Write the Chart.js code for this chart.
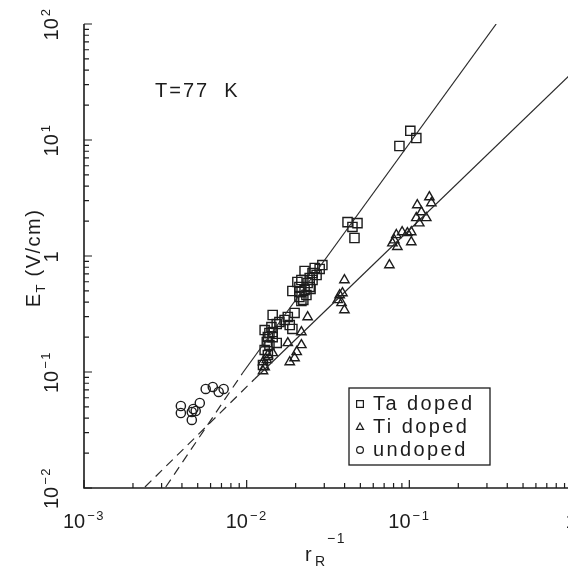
<!DOCTYPE html>
<html>
<head>
<meta charset="utf-8">
<script src="https://cdn.jsdelivr.net/npm/chart.js@4.4.0/dist/chart.umd.min.js"></script>
<style>
  html, body { margin: 0; padding: 0; background: #fff; overflow: hidden; }
  canvas { display: block; }
</style>
</head>
<body>
<canvas id="chart" width="580" height="567"></canvas>
<script>
// values: x = r_R^-1, y = E_T (V/cm)
const taX = [0.1014, 0.1104, 0.0869, 0.0417, 0.0480, 0.0447, 0.0460, 0.0292, 0.0281, 0.0262,
  0.0227, 0.0254, 0.0244, 0.0217, 0.0211, 0.0244, 0.0237, 0.0191, 0.0211, 0.0227,
  0.0211, 0.0217, 0.0233, 0.0247, 0.0269, 0.0254, 0.0205, 0.0223, 0.01445, 0.0197,
  0.0179, 0.0171, 0.0159, 0.0153, 0.0184, 0.0191, 0.0129, 0.0142, 0.0138, 0.01445,
  0.0135, 0.01445, 0.0133, 0.0153, 0.0138, 0.0129, 0.0126, 0.0135];
const taY = [12.0, 10.4, 8.88, 1.96, 1.92, 1.78, 1.43, 0.836, 0.773, 0.788,
  0.743, 0.713, 0.646, 0.621, 0.541, 0.541, 0.585, 0.499, 0.490, 0.509,
  0.443, 0.409, 0.461, 0.520, 0.686, 0.621, 0.597, 0.418, 0.310, 0.323,
  0.298, 0.281, 0.270, 0.259, 0.254, 0.235, 0.230, 0.244, 0.217, 0.221,
  0.200, 0.200, 0.181, 0.178, 0.171, 0.155, 0.115, 0.140];

const tiX = [0.0399, 0.0373, 0.0363, 0.0383, 0.0399, 0.0388, 0.0237, 0.0217, 0.0179, 0.0217,
  0.0203, 0.0197, 0.0184, 0.01445, 0.0135, 0.0133, 0.0126, 0.0129, 0.0126,
  0.1328, 0.1365, 0.1119, 0.1186, 0.1271, 0.1104, 0.1151, 0.0903, 0.1028, 0.0832,
  0.0809, 0.0787, 0.0844, 0.1028, 0.0754, 0.0973];
const tiY = [0.621, 0.461, 0.418, 0.394, 0.342, 0.480, 0.298, 0.221, 0.178, 0.171,
  0.149, 0.132, 0.122, 0.146, 0.140, 0.127, 0.122, 0.110, 0.102,
  3.22, 2.86, 2.75, 2.39, 2.13, 2.13, 1.92, 1.61, 1.61, 1.52,
  1.37, 1.29, 1.20, 1.32, 0.836, 1.58];

const undopedX = [0.00394, 0.00394, 0.00460, 0.00486, 0.00515, 0.00460, 0.0047, 0.00560, 0.00619, 0.00673, 0.00722];
const undopedY = [0.0509, 0.0443, 0.0452, 0.0461, 0.0541, 0.0386, 0.048, 0.0714, 0.0743, 0.0673, 0.0714];

// fitted lines and their dashed extrapolations
const taFitX = [0.00944, 0.342];
const taFitY = [0.098, 100];
const tiFitX = [0.01119, 1];
const tiFitY = [0.0871, 37.8];
const taDashX = [0.00318, 0.00944];
const taDashY = [0.0102, 0.098];
const tiDashX = [0.00237, 0.01119];
const tiDashY = [0.0102, 0.0871];

const xTicks = [0.001, 0.01, 0.1, 1];
const xTickLabels = [['10', '\u22123'], ['10', '\u22122'], ['10', '\u22121'], ['1', '']];
const yTicks = [0.01, 0.1, 1, 10, 100];
const yTickLabels = [['10', '\u22122'], ['10', '\u22121'], ['1', ''], ['10', '1'], ['10', '2']];

const legendNames = ['Ta doped', 'Ti doped', 'undoped'];
const legendShapes = ['rect', 'triangle', 'circle'];

const pts = (xs, ys) => xs.map((x, i) => ({ x: x, y: ys[i] }));
const ink = '#1c1c1c';
const FONT = '"Liberation Sans", Arial, sans-serif';

function markers(label, xs, ys, shape, r) {
  return {
    label: label, data: pts(xs, ys), pointStyle: shape, pointRadius: r,
    borderColor: ink, backgroundColor: 'rgba(0,0,0,0)', pointBorderWidth: 1.4,
    showLine: false
  };
}
function fitLine(xs, ys, dash) {
  return {
    type: 'line', data: pts(xs, ys), borderColor: '#2a2a2a', borderWidth: 1.2,
    borderDash: dash, pointRadius: 0, fill: false, showLine: true
  };
}

function setFont(ctx, size, spacing) {
  ctx.font = size + 'px ' + FONT;
  ctx.letterSpacing = spacing + 'px';
}

// draw "10" with a raised exponent, centred on x
function supText(ctx, base, sup, x, y) {
  setFont(ctx, 20, 0);
  const wb = ctx.measureText(base).width;
  setFont(ctx, 13, 1.5);
  const ws = sup ? ctx.measureText(sup).width : 0;
  const start = x - (wb + ws + 2) / 2;
  setFont(ctx, 20, 0);
  ctx.fillText(base, start, y);
  if (sup) {
    setFont(ctx, 13, 1.5);
    ctx.fillText(sup, start + wb + 2, y - 8);
  }
}

function drawShape(ctx, shape, x, y, s) {
  ctx.beginPath();
  if (shape === 'rect') ctx.rect(x - s, y - s, 2 * s, 2 * s);
  else if (shape === 'triangle') {
    ctx.moveTo(x, y - s * 1.2); ctx.lineTo(x + s * 1.05, y + s * 0.7); ctx.lineTo(x - s * 1.05, y + s * 0.7); ctx.closePath();
  } else ctx.arc(x, y, s, 0, Math.PI * 2);
  ctx.stroke();
}

const axesPlugin = {
  id: 'axesPlugin',
  afterDraw(chart) {
    const ctx = chart.ctx, xs = chart.scales.x, ys = chart.scales.y, a = chart.chartArea;
    ctx.save();
    ctx.strokeStyle = ink;
    ctx.fillStyle = ink;
    ctx.lineWidth = 1.6;
    ctx.beginPath();
    ctx.moveTo(a.left, a.top); ctx.lineTo(a.left, a.bottom); ctx.lineTo(a.right, a.bottom);
    ctx.stroke();

    // inward ticks
    ctx.lineWidth = 1.2;
    ctx.beginPath();
    for (let d = -3; d <= 0; d++) {
      for (let m = 1; m <= 9; m++) {
        const v = m * Math.pow(10, d);
        if (v > 1.0001) break;
        const px = xs.getPixelForValue(v);
        ctx.moveTo(px, a.bottom); ctx.lineTo(px, a.bottom - (m === 1 ? 8 : 5));
      }
    }
    for (let d = -2; d <= 2; d++) {
      for (let m = 1; m <= 9; m++) {
        const v = m * Math.pow(10, d);
        if (v > 100.001) break;
        const py = ys.getPixelForValue(v);
        ctx.moveTo(a.left, py); ctx.lineTo(a.left + (m === 1 ? 8 : 5), py);
      }
    }
    ctx.stroke();

    // tick labels
    ctx.textAlign = 'left';
    ctx.textBaseline = 'alphabetic';
    xTicks.forEach((v, i) => {
      supText(ctx, xTickLabels[i][0], xTickLabels[i][1], xs.getPixelForValue(v), 528);
    });
    yTicks.forEach((v, i) => {
      ctx.save();
      ctx.translate(58, ys.getPixelForValue(v));
      ctx.rotate(-Math.PI / 2);
      supText(ctx, yTickLabels[i][0], yTickLabels[i][1], 0, 0);
      ctx.restore();
    });

    // y title: E_T (V/cm)
    ctx.save();
    ctx.translate(40, 258);
    ctx.rotate(-Math.PI / 2);
    setFont(ctx, 20, 1.5);
    const wE = ctx.measureText('E').width;
    const wRest = ctx.measureText(' (V/cm)').width;
    setFont(ctx, 13, 1);
    const wT = ctx.measureText('T').width;
    const sx = -(wE + wT + wRest) / 2;
    setFont(ctx, 20, 1.5);
    ctx.fillText('E', sx, 0);
    setFont(ctx, 13, 1);
    ctx.fillText('T', sx + wE, 5);
    setFont(ctx, 20, 1.5);
    ctx.fillText(' (V/cm)', sx + wE + wT, 0);
    ctx.restore();

    // x title: r_R^-1
    setFont(ctx, 20, 0);
    ctx.fillText('r', 305, 561);
    setFont(ctx, 14, 0);
    ctx.fillText('R', 315, 566);
    setFont(ctx, 14, 1.5);
    ctx.fillText('\u22121', 327, 543);

    // annotation
    setFont(ctx, 20, 2);
    ctx.fillText('T=77  K', 155, 97);

    // legend box
    ctx.fillStyle = '#fff';
    ctx.fillRect(349, 388, 141, 77);
    ctx.lineWidth = 1.3;
    ctx.strokeRect(349, 388, 141, 77);
    ctx.fillStyle = ink;
    legendNames.forEach((name, i) => {
      const base = 410 + i * 23;
      ctx.lineWidth = 1.2;
      drawShape(ctx, legendShapes[i], 360, base - 6, 3.4);
      setFont(ctx, 20, 2.4);
      ctx.fillText(name, 373, base);
    });
    ctx.restore();
  }
};

new Chart(document.getElementById('chart').getContext('2d'), {
  type: 'scatter',
  data: {
    datasets: [
      fitLine(taFitX, taFitY, []),
      fitLine(tiFitX, tiFitY, []),
      fitLine(taDashX, taDashY, [9, 6]),
      fitLine(tiDashX, tiDashY, [9, 6]),
      markers('Ta doped', taX, taY, 'rect', 6.5),
      markers('Ti doped', tiX, tiY, 'triangle', 5.4),
      markers('undoped', undopedX, undopedY, 'circle', 4.6)
    ]
  },
  options: {
    responsive: false,
    animation: false,
    layout: { padding: { left: 84, right: 8, top: 24, bottom: 79 } },
    plugins: { legend: { display: false }, tooltip: { enabled: false } },
    scales: {
      x: { type: 'logarithmic', min: 0.001, max: 1, display: false },
      y: { type: 'logarithmic', min: 0.01, max: 100, display: false }
    }
  },
  plugins: [axesPlugin]
});
</script>
</body>
</html>
